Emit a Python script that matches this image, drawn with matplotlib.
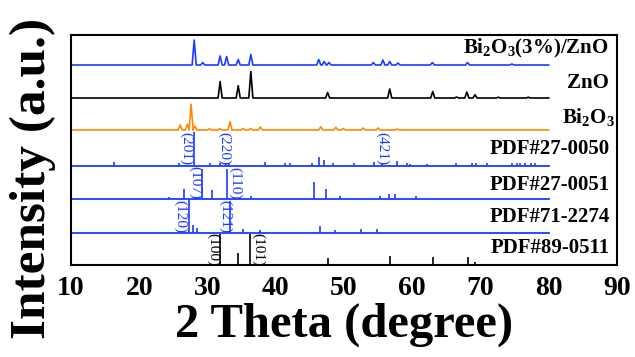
import numpy as np
import matplotlib
matplotlib.use('Agg')
import matplotlib.pyplot as plt

plt.rcParams['font.family'] = ['Liberation Serif', 'DejaVu Serif']
plt.rcParams['font.weight'] = 'bold'
plt.rcParams['mathtext.fontset'] = 'custom'
plt.rcParams['mathtext.rm'] = 'Liberation Serif:bold'
plt.rcParams['mathtext.default'] = 'rm'

BLUE = '#1a3cff'
ORANGE = '#ff8a00'

# measured patterns: peak positions (2theta) and heights, plus vertical offsets
comp_pos = [28.05, 29.3, 31.85, 32.8, 34.5, 36.35, 46.3, 47.1, 47.8, 54.3, 55.7, 56.7, 57.9, 62.95, 68.1, 74.6]
comp_h = [25, 2.5, 9, 8.5, 5.5, 10.5, 5.5, 3.5, 2.5, 2.5, 5, 3.5, 2, 2.5, 2.5, 1]
zno_pos = [31.85, 34.5, 36.35, 47.6, 56.7, 63.0, 66.5, 68.0, 69.2, 72.6, 77.0]
zno_h = [16.5, 12.3, 26.5, 5.5, 9, 6.5, 1, 6, 3.3, 0.8, 0.8]
bi_pos = [26.0, 27.05, 27.6, 28.15, 30.3, 31.8, 33.3, 35.2, 36.3, 37.75, 46.6, 48.8, 49.9, 52.8, 55.0, 57.8]
bi_h = [5, 5.7, 25.7, 4, 1.2, 1.5, 8.3, 1.5, 1.5, 3, 3.3, 2.7, 1.5, 2, 2, 1]
trace_off = [200, 167, 135]

pdf_names = ['PDF#27-0050', 'PDF#27-0051', 'PDF#71-2274', 'PDF#89-0511']
pdf_off = [99, 66, 32, 0]
pdf_pos = [
    [16.3, 25.8, 28.05, 30.3, 31.8, 32.7, 33.1, 38.4, 41.4, 42.1, 45.3, 46.3, 47.0, 48.4, 51.4, 54.4, 55.6,
     57.8, 59.2, 59.7, 62.1, 66.4, 68.7, 69.3, 71.0, 74.6, 75.3, 75.8, 76.5, 77.4, 78.0],
    [24.4, 26.5, 29.2, 30.7, 32.9, 36.4, 45.6, 47.3, 49.4, 55.3, 56.6, 57.4, 60.5],
    [27.3, 27.9, 28.4, 33.3, 35.2, 37.7, 46.5, 48.7, 52.5, 54.9],
    [31.8, 34.45, 36.3, 47.7, 56.7, 63.1, 68.1, 69.2],
]
pdf_h = [
    [4.3, 3, 34, 3, 3, 3, 3, 3.7, 3, 3, 3, 9, 6.3, 3, 3, 4, 3.5,
     5, 3, 2, 2.3, 3, 3, 3, 3, 3, 3.5, 3, 3, 3, 3],
    [2, 9.7, 30, 9, 30, 3, 17.3, 9.7, 3, 3, 5, 5, 3],
    [33, 8, 5, 32, 4.5, 3, 6.7, 3.3, 3.7, 3.7],
    [31, 12, 31, 6.7, 9.5, 8.3, 7.7, 3.3],
]
hkl_text = ['(201)', '(220)', '(421)', '(107)', '(110)', '(120)', '(121)', '(100)', '(101)']
hkl_x = [26.9, 32.5, 55.6, 28.2, 34.0, 26.0, 32.6, 30.8, 37.4]
hkl_y = [116, 116, 116, 82, 82, 48, 48, 15, 15]
hkl_col = [BLUE] * 7 + ['black'] * 2

names = ['Bi$_2$O$_3$(3%)/ZnO', 'ZnO', 'Bi$_2$O$_3$'] + pdf_names
name_x = [88.8, 88.8, 89.7, 89.0, 89.0, 89.0, 89.0]
name_y = [217, 182, 148, 116, 80, 48, 17]


def vertices(pos, h, base, w=0.3):
    xs, ys = [10], [base]
    for p, v in zip(pos, h):
        xs += [p - w, p, p + w]
        ys += [base, base + v, base]
    xs.append(80)
    ys.append(base)
    return xs, ys


fig = plt.figure(figsize=(6.35, 3.57), dpi=100)
ax = fig.add_axes([71 / 635, 1 - 265 / 357, 546 / 635, 230 / 357])

for pos, h, off, c in zip([comp_pos, zno_pos, bi_pos], [comp_h, zno_h, bi_h], trace_off, [BLUE, 'black', ORANGE]):
    xs, ys = vertices(pos, h, off)
    ax.plot(xs, ys, color=c, lw=1.2)

for i in range(4):
    col = BLUE if i < 3 else 'black'
    ax.vlines(pdf_pos[i], pdf_off[i], np.array(pdf_h[i]) + pdf_off[i], color=col, lw=1.2)
    if i < 3:
        ax.plot([10, 80], [pdf_off[i], pdf_off[i]], color=BLUE, lw=1.3)

for t, x, y, c in zip(hkl_text, hkl_x, hkl_y, hkl_col):
    ax.text(x, y, t, rotation=270, ha='center', va='center', color=c, fontsize=11, fontweight='normal')

for t, x, y in zip(names, name_x, name_y):
    ax.text(x, y, t, ha='right', va='center', fontsize=15)

ax.set_xlim(10, 90)
ax.set_ylim(0, 230)
ax.set_xticks(np.arange(10, 91, 10))
ax.set_yticks([])
ax.tick_params(axis='x', length=0, pad=8, labelsize=20)
for s in ax.spines.values():
    s.set_linewidth(1.5)

fig.text(344 / 635, 1 - 325 / 357, '2 Theta (degree)', ha='center', va='center', fontsize=35)
fig.text(33 / 635, 1 - 178 / 357, 'Intensity (a.u.)', ha='center', va='center', rotation=90, fontsize=37)

fig.savefig('out.png', dpi=100)
